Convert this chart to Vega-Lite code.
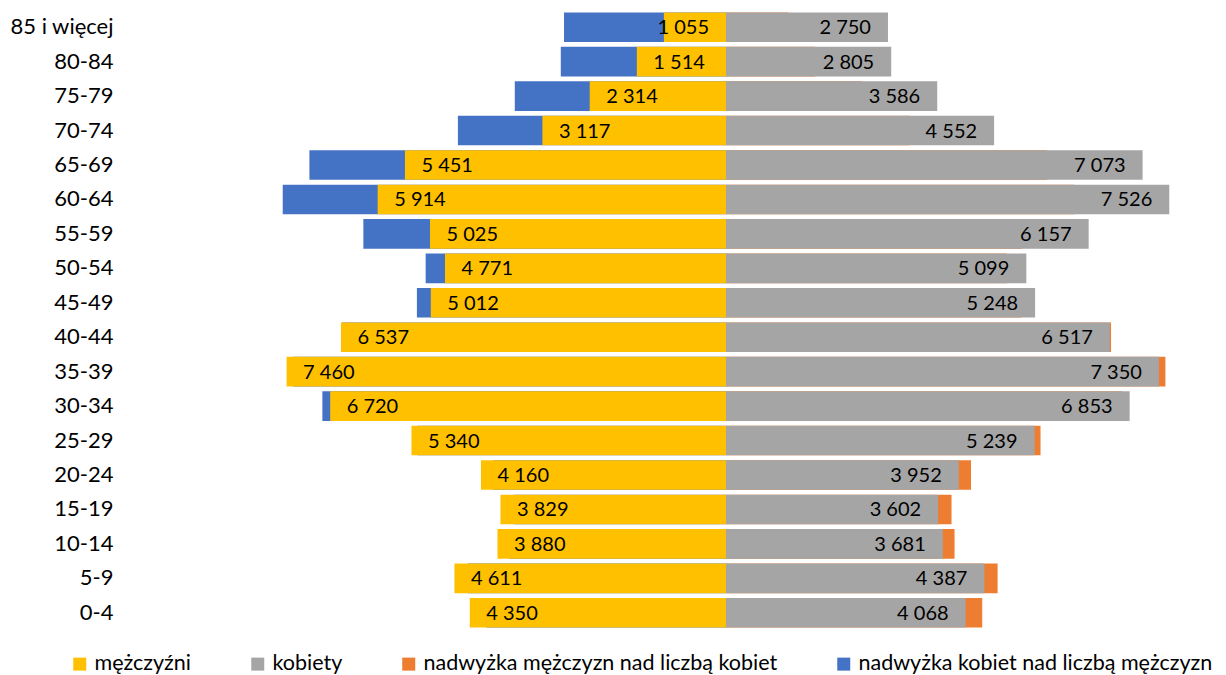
{
  "$schema": "https://vega.github.io/schema/vega-lite/v6.json",
  "autosize": "none",
  "width": 1092,
  "height": 620,
  "padding": {"left": 131, "top": 10, "right": 3, "bottom": 45},
  "background": "white",
  "view": {"stroke": null},
  "data": {
    "values": [
      {"age": "85 i więcej", "m": 1055, "k": 2750},
      {"age": "80-84", "m": 1514, "k": 2805},
      {"age": "75-79", "m": 2314, "k": 3586},
      {"age": "70-74", "m": 3117, "k": 4552},
      {"age": "65-69", "m": 5451, "k": 7073},
      {"age": "60-64", "m": 5914, "k": 7526},
      {"age": "55-59", "m": 5025, "k": 6157},
      {"age": "50-54", "m": 4771, "k": 5099},
      {"age": "45-49", "m": 5012, "k": 5248},
      {"age": "40-44", "m": 6537, "k": 6517},
      {"age": "35-39", "m": 7460, "k": 7350},
      {"age": "30-34", "m": 6720, "k": 6853},
      {"age": "25-29", "m": 5340, "k": 5239},
      {"age": "20-24", "m": 4160, "k": 3952},
      {"age": "15-19", "m": 3829, "k": 3602},
      {"age": "10-14", "m": 3880, "k": 3681},
      {"age": "5-9", "m": 4611, "k": 4387},
      {"age": "0-4", "m": 4350, "k": 4068}
    ]
  },
  "encoding": {
    "y": {
      "field": "age",
      "type": "nominal",
      "sort": null,
      "scale": {"paddingInner": 0.14, "paddingOuter": 0.07},
      "axis": {
        "title": null,
        "labelFontSize": 22,
        "labelFont": "Lato",
        "labelColor": "#000000",
        "labelPadding": 18,
        "domain": false,
        "ticks": false,
        "grid": false
      }
    }
  },
  "layer": [
    {
      "mark": {"type": "bar"},
      "encoding": {
        "x": {"field": "k", "type": "quantitative", "stack": null, "scale": {"domain": [-8438, 10102], "reverse": true, "nice": false}, "axis": null},
        "color": {
          "datum": "nadwyżka kobiet nad liczbą mężczyzn",
          "scale": {
            "domain": ["mężczyźni", "kobiety", "nadwyżka mężczyzn nad liczbą kobiet", "nadwyżka kobiet nad liczbą mężczyzn"],
            "range": ["#FFC000", "#A5A5A5", "#ED7D31", "#4472C4"]
          },
          "legend": {
            "title": null,
            "orient": "none",
            "legendX": -62,
            "legendY": 643,
            "direction": "horizontal",
            "columns": 4,
            "columnPadding": 55,
            "labelOffset": 4,
            "symbolType": "square",
            "symbolSize": 169,
            "symbolStrokeWidth": 0,
            "labelFont": "Lato",
            "labelFontSize": 21.5,
            "labelColor": "#000000",
            "labelLimit": 0,
            "padding": 0
          }
        }
      }
    },
    {
      "mark": {"type": "bar"},
      "encoding": {
        "x": {"field": "m", "type": "quantitative", "stack": null, "scale": {"domain": [-8438, 10102], "reverse": true, "nice": false}, "axis": null},
        "color": {"datum": "mężczyźni"}
      }
    },
    {
      "transform": [{"filter": "datum.m >= 1500"}],
      "mark": {"type": "text", "align": "left", "baseline": "middle", "dx": 16.5, "dy": 1, "font": "Lato", "fontSize": 20, "color": "#000000"},
      "encoding": {
        "x": {"field": "m", "type": "quantitative", "stack": null, "scale": {"domain": [-8438, 10102], "reverse": true, "nice": false}, "axis": null},
        "text": {"field": "m", "type": "quantitative", "format": ",d"}
      }
    },
    {
      "transform": [{"filter": "datum.m < 1500"}],
      "mark": {"type": "text", "align": "right", "baseline": "middle", "dx": -17, "dy": 1, "font": "Lato", "fontSize": 20, "color": "#000000"},
      "encoding": {
        "x": {"datum": 0, "type": "quantitative", "scale": {"domain": [-8438, 10102], "reverse": true, "nice": false}, "axis": null},
        "text": {"field": "m", "type": "quantitative", "format": ",d"}
      }
    },
    {
      "mark": {"type": "bar"},
      "encoding": {
        "x": {"field": "m", "type": "quantitative", "stack": null, "scale": {"domain": [-10102, 8438], "nice": false}, "axis": null},
        "color": {"datum": "nadwyżka mężczyzn nad liczbą kobiet"}
      }
    },
    {
      "mark": {"type": "bar"},
      "encoding": {
        "x": {"field": "k", "type": "quantitative", "stack": null, "scale": {"domain": [-10102, 8438], "nice": false}, "axis": null},
        "color": {"datum": "kobiety"}
      }
    },
    {
      "mark": {"type": "text", "align": "right", "baseline": "middle", "dx": -17, "dy": 1, "font": "Lato", "fontSize": 20, "color": "#000000"},
      "encoding": {
        "x": {"field": "k", "type": "quantitative", "stack": null, "scale": {"domain": [-10102, 8438], "nice": false}, "axis": null},
        "text": {"field": "k", "type": "quantitative", "format": ",d"}
      }
    },
    {
      "mark": {"type": "rule", "color": "#D9D9D9", "strokeWidth": 1},
      "encoding": {
        "x": {"datum": 0, "type": "quantitative", "scale": {"domain": [-10102, 8438], "nice": false}, "axis": null}
      }
    }
  ],
  "resolve": {"scale": {"x": "independent"}},
  "config": {
    "view": {"stroke": null},
    "locale": {"number": {"decimal": ",", "thousands": " ", "grouping": [3], "currency": ["", " zł"]}},
    "axis": {"grid": false}
  }
}
